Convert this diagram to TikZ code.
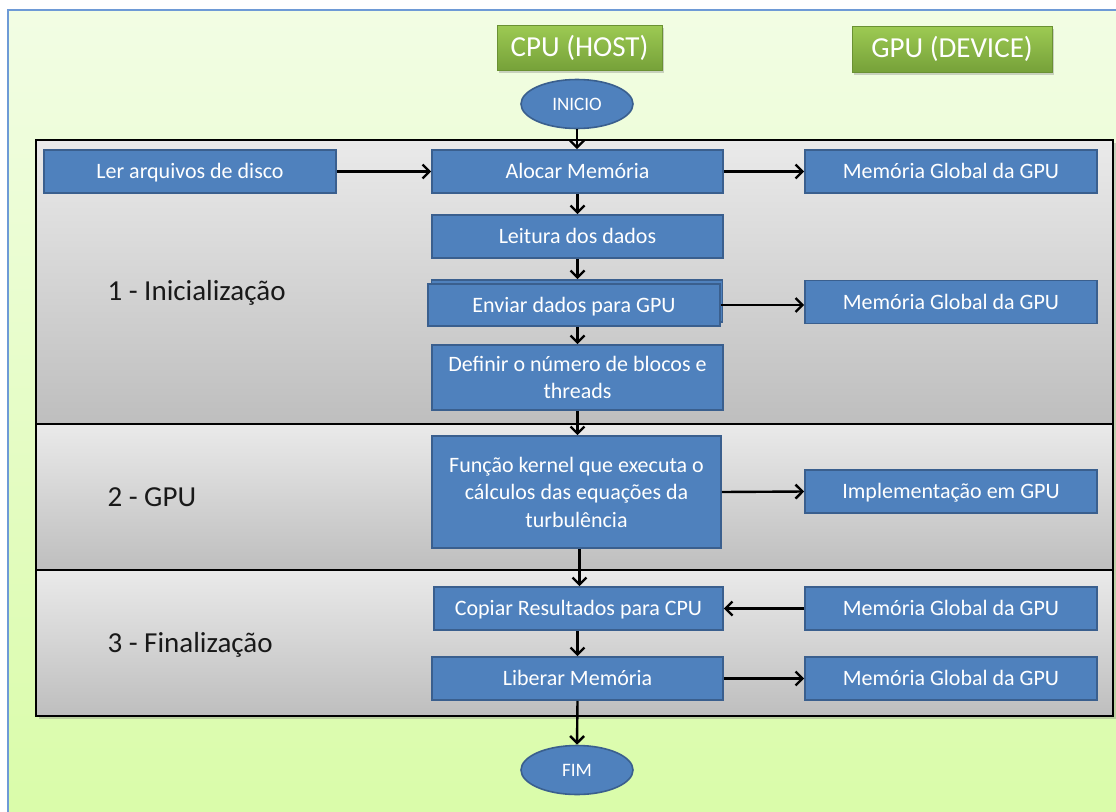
\documentclass[tikz,border=0pt]{standalone}
\usepackage{fontspec}
\setmainfont{Carlito}
\usetikzlibrary{arrows.meta,shapes.geometric,shadows}

\definecolor{bgtop}{HTML}{F2FDE4}
\definecolor{bgbot}{HTML}{D9FCA8}
\definecolor{frameblue}{HTML}{6E9AD6}
\definecolor{paneltop}{HTML}{EAEAEA}
\definecolor{panelbot}{HTML}{BEBEBE}
\definecolor{boxblue}{HTML}{4F81BD}
\definecolor{boxedge}{HTML}{3A5F8E}
\definecolor{headtop}{HTML}{9DCA53}
\definecolor{headbot}{HTML}{76A139}

\tikzset{
  panel/.style={draw=black, line width=1.8pt, top color=paneltop, bottom color=panelbot,
    drop shadow={opacity=0.35, shadow xshift=2.5pt, shadow yshift=-2.5pt}},
  procbox/.style={rectangle, draw=boxedge, fill=boxblue, line width=1.6pt, text=white,
    font=\fontsize{22}{27.5}\selectfont, align=center, inner sep=2pt},
  oneline/.style={text height=16.2pt, text depth=2pt},
  membox/.style={procbox, oneline, minimum width=292pt, minimum height=43pt},
  cpubox/.style={procbox, minimum width=291pt, minimum height=43pt},
  terminal/.style={ellipse, draw=boxedge, fill=boxblue, line width=1.6pt, text=white,
    minimum width=112pt, minimum height=49pt, inner sep=0pt,
    font=\fontsize{19}{22}\selectfont},
  header/.style={rectangle, top color=headtop, bottom color=headbot, draw=headbot!90!black,
    line width=0.6pt, text=white, font=\fontsize{29}{34}\selectfont,
    drop shadow={opacity=0.35, shadow xshift=2pt, shadow yshift=-2.5pt}},
  stagelabel/.style={anchor=west, font=\fontsize{29}{34}\selectfont, text=black!90},
  flow/.style={-{Straight Barb[length=7pt,width=14pt,line width=2.4pt]}, line width=2.4pt, black}
}

\begin{document}
\begin{tikzpicture}[x=1pt,y=-1pt]
\useasboundingbox (0,0) rectangle (1116,811);

% page background
\draw[frameblue, line width=1.5pt, top color=bgtop, bottom color=bgbot]
  (8,10) rectangle (1130,830);

% stage panels
\draw[panel] (36,140) rectangle (1113,424);
\draw[panel] (36,424) rectangle (1113,570);
\draw[panel] (36,570) rectangle (1113,716);

% stage labels
\node[stagelabel] (lab1) at (104,293) {1 - Inicialização};
\node[stagelabel] (lab2) at (104,497) {2 - GPU};
\node[stagelabel] (lab3) at (104,645) {3 - Finalização};

% column headers
\node[header, minimum width=165pt, minimum height=45pt] (cpu) at (579.5,47.5) {CPU (HOST)};
\node[header, minimum width=200pt, minimum height=46pt] (gpu) at (952,49) {GPU (DEVICE)};

% host flow
\node[terminal] (inicio) at (577,104) {INICIO};
\node[membox] (ler) at (190,171.5) {Ler arquivos de disco};
\node[cpubox, oneline] (aloc) at (577.5,171.5) {Alocar Memória};
\node[cpubox, oneline] (leit) at (577.5,236.5) {Leitura dos dados};
\node[cpubox, minimum height=42pt] (envib) at (577,301) {};
\node[cpubox, oneline, minimum width=292pt, minimum height=42pt] (envi) at (574,305) {Enviar dados para GPU};
\node[cpubox, minimum height=65pt] (def) at (577.5,377.5) {Definir o número de blocos e\\threads};
\node[cpubox, minimum width=289pt, minimum height=112pt] (func) at (576.5,492)
  {Função kernel que executa o\\cálculos das equações da\\turbulência};
\node[cpubox, oneline, minimum width=289pt] (cop) at (578.5,608.5) {Copiar Resultados para CPU};
\node[cpubox, oneline] (lib) at (577.5,678.5) {Liberar Memória};
\node[terminal] (fim) at (577,770) {FIM};

% device side
\node[membox] (mem1) at (951,171.5) {Memória Global da GPU};
\node[membox] (mem2) at (951,302) {Memória Global da GPU};
\node[membox] (impl) at (951,491.5) {Implementação em GPU};
\node[membox] (mem3) at (951,608.5) {Memória Global da GPU};
\node[membox] (mem4) at (951,678.5) {Memória Global da GPU};

% connectors
\draw[flow] (inicio.south) -- (inicio.south |- aloc.north);
\draw[flow] (ler.east) -- (aloc.west);
\draw[flow] (aloc.east) -- (mem1.west);
\draw[flow] (aloc.south) -- (leit.north);
\draw[flow] (leit.south) -- (leit.south |- envib.north);
\draw[flow] (envi.east) -- (envi.east -| mem2.west);
\draw[flow] (envi.south -| def.north) -- (def.north);
\draw[flow] (def.south) -- (def.south |- func.north);
\draw[flow] (func.east) -- (impl.west);
\draw[flow] ([xshift=3pt]func.south) -- ([xshift=3pt]func.south |- cop.north);
\draw[flow] (mem3.west) -- (cop.east);
\draw[flow] (cop.south -| lib.north) -- (lib.north);
\draw[flow] (lib.east) -- (mem4.west);
\draw[flow] (lib.south) -- (fim.north);
\end{tikzpicture}
\end{document}
